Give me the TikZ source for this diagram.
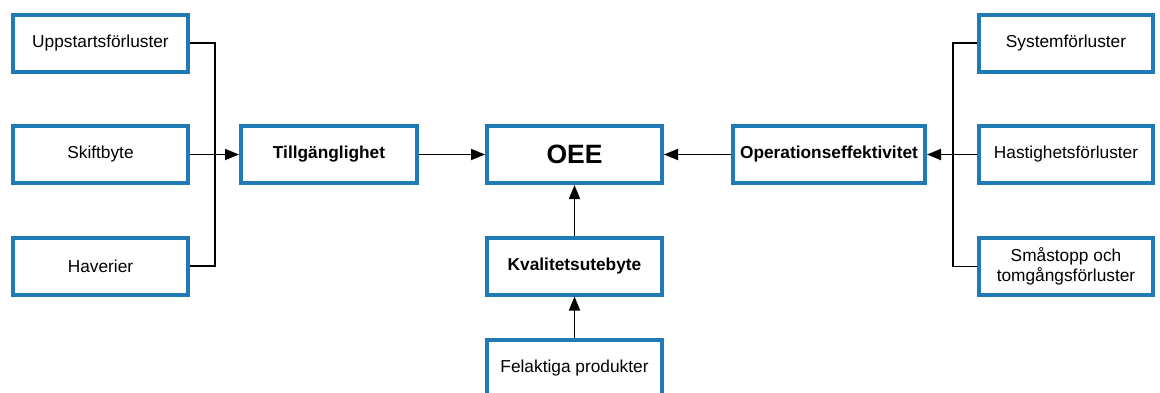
\documentclass[tikz,border=0pt]{standalone}
\usepackage{fontspec}
\setmainfont{Liberation Sans}
\usetikzlibrary{arrows.meta}
\definecolor{boxblue}{RGB}{31,122,182}
\begin{document}
\begin{tikzpicture}[x=1pt,y=-1pt,
  box/.style={draw=boxblue, line width=4pt, fill=white, minimum height=57pt, inner sep=2pt, align=center, font=\fontsize{17.3}{20.5}\selectfont},
  bbox/.style={box, font=\fontsize{17.3}{20.5}\selectfont\bfseries},
  conn/.style={line width=1.8pt, black},
  arr/.style={conn, -{Triangle[length=14pt,width=11pt]}}]
\useasboundingbox (0,0) rectangle (1160,392);
\node[box, minimum width=175pt] (upp) at (100.5,43) {Uppstartsförluster};
\node[box, minimum width=175pt] (skift) at (100.5,154.5) {Skiftbyte};
\node[box, minimum width=175pt] (hav) at (100.5,266) {Haverier};
\node[bbox, minimum width=176pt] (till) at (329,154.5) {Tillgänglighet};
\node[box, minimum width=175pt, font=\fontsize{26.5}{30}\selectfont\bfseries] (oee) at (574.5,154.5) {OEE};
\node[bbox, minimum width=192pt] (op) at (829,154.5) {Operationseffektivitet};
\node[box, minimum width=174pt] (sys) at (1066,43) {Systemförluster};
\node[box, minimum width=174pt] (hast) at (1066,154.5) {Hastighetsförluster};
\node[box, minimum width=174pt] (sma) at (1066,266.5) {Småstopp och\\tomgångsförluster};
\node[bbox, minimum width=175pt] (kval) at (574.5,266) {Kvalitetsutebyte};
\node[box, minimum width=175pt] (fel) at (574.5,368) {Felaktiga produkter};
\coordinate (lv) at (215,0);
\coordinate (rv) at (953,0);
\draw[conn] (upp.east) -| (lv |- hav.east) -- (hav.east);
\draw[arr] (skift.east) -- (till.west);
\draw[arr] (till.east) -- (oee.west);
\draw[conn] (sys.west) -| (rv |- sma.west) -- (sma.west);
\draw[arr] (hast.west) -- (op.east);
\draw[arr] (op.west) -- (oee.east);
\draw[arr] (kval.north) -- (oee.south);
\draw[arr] (fel.north) -- (kval.south);
\end{tikzpicture}
\end{document}
